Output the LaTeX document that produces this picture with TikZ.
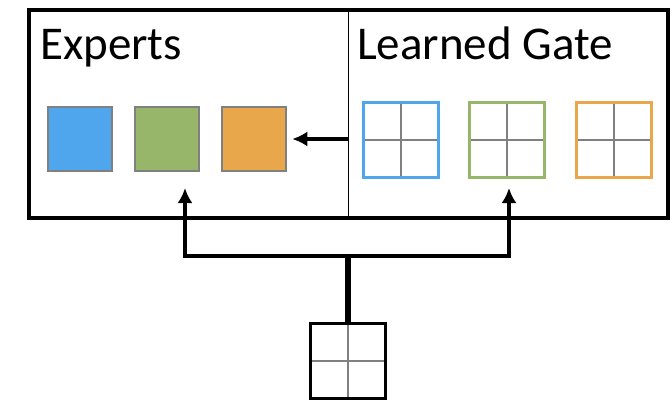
\documentclass[tikz,border=0pt]{standalone}
\usepackage{fontspec}
\setmainfont{Carlito}
\usetikzlibrary{arrows.meta}
\definecolor{expblue}{RGB}{80,166,237}
\definecolor{expgreen}{RGB}{152,182,106}
\definecolor{exporange}{RGB}{232,167,74}
\definecolor{crossgray}{RGB}{128,128,128}
\tikzset{
  expert/.style={minimum size=64pt,inner sep=0pt,draw=crossgray,line width=2.5pt},
  gatebox/.style={minimum size=75pt,inner sep=0pt,line width=3pt,
    path picture={
      \draw[crossgray,line width=2pt] (path picture bounding box.north) -- (path picture bounding box.south);
      \draw[crossgray,line width=2pt] (path picture bounding box.west) -- (path picture bounding box.east);
    }},
  title/.style={anchor=base west,inner sep=0pt,font=\fontsize{47}{52}\selectfont},
  flow/.style={line width=3.5pt,-{Latex[length=15pt,width=15pt]}}
}
\begin{document}
\begin{tikzpicture}[x=1pt,y=-1pt]
  \useasboundingbox (0,0) rectangle (672,400);
  % panel with experts and gate
  \node[draw,line width=4pt,minimum width=639pt,minimum height=208pt,inner sep=0pt] (panel) at (348.5,114) {};
  \draw[line width=1.5pt] (panel.north) -- (panel.south);
  \node[title] (experts) at (40,59) {Experts};
  \node[title] (gate) at (357,59) {Learned Gate};
  \begin{scope}[every node/.style={expert}]
    \node[fill=expblue] (e1) at (80,139) {};
    \node[fill=expgreen] (e2) at (167,139) {};
    \node[fill=exporange] (e3) at (254,139) {};
  \end{scope}
  \begin{scope}[every node/.style={gatebox}]
    \node[draw=expblue] (g1) at (401,140) {};
    \node[draw=expgreen] (g2) at (506.5,140) {};
    \node[draw=exporange] (g3) at (613.5,140) {};
    \node[draw=black] (input) at (348,360.5) {};
  \end{scope}
  \coordinate (split) at (348,256);
  \coordinate (toexp) at (185,188);
  \coordinate (togate) at (509,188);
  \draw[flow] (panel.north |- e3.east) -- ([xshift=5pt]e3.east);
  \draw[line width=6pt] (input.north) -- (split);
  \draw[flow] (split) -| (toexp);
  \draw[flow] (split) -| (togate);
\end{tikzpicture}
\end{document}
